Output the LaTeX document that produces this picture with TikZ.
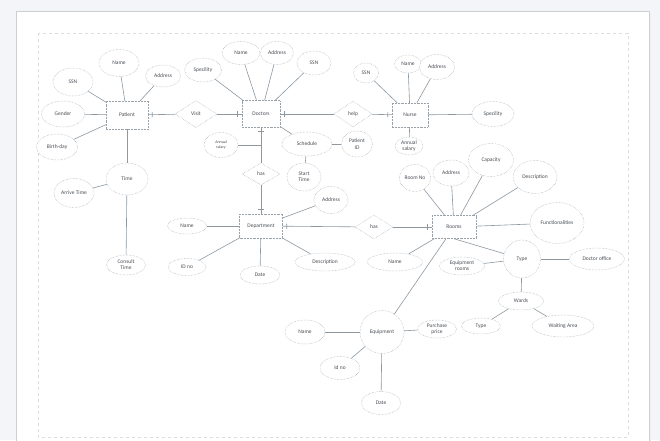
\documentclass[tikz,border=0pt]{standalone}
\usepackage{fontspec}
\setmainfont{Carlito}
\usetikzlibrary{shapes.geometric,decorations.markings}
\definecolor{bgc}{HTML}{F4F5F8}
\definecolor{pagec}{HTML}{CFCFD2}
\definecolor{framec}{HTML}{DCDCDC}
\definecolor{bordc}{HTML}{9AA2A8}
\definecolor{linec}{HTML}{8D98A1}
\definecolor{txtc}{HTML}{4A4F55}
\tikzset{
  sz/.style 2 args={minimum width=#1pt, minimum height=#2pt},
  base/.style={draw=bordc, densely dotted, line width=0.45pt, inner sep=0pt, fill=white,
    text=txtc, font=\fontsize{5.5}{6.2}\selectfont, align=center},
  attr/.style={base, ellipse},
  ent/.style={base, rectangle},
  rel/.style={base, diamond},
  conn/.style={draw=linec, line width=0.6pt, solid},
  tickend/.style={postaction={decorate, decoration={markings,
     mark=at position -4pt with {\draw[conn] (0,-2.6pt) -- (0,2.6pt);}}}}
}
\begin{document}
\begin{tikzpicture}[x=1pt,y=-1pt]
\clip (0,0) rectangle (660,440);
\useasboundingbox (0,0) rectangle (660,440);
\fill[bgc] (0,0) rectangle (660,440);
\fill[black!6] (18,13) rectangle (651,452);
\draw[pagec, line width=0.8pt, fill=white] (16,11) rectangle (649,450);
\draw[framec, dashed, line width=0.4pt] (38,33) rectangle (628,437);

% Patient
\node[ent, sz={42}{28}] (patient) at (127,115) {Patient};
\node[attr, sz={40}{27}] (pname) at (119,63) {Name};
\node[attr, sz={40}{28}] (pssn) at (73,82) {SSN};
\node[attr, sz={35}{22}] (paddr) at (163,76) {Address};
\node[attr, sz={43}{26}] (pgender) at (63,114) {Gender};
\node[attr, sz={41}{26}] (pbirth) at (57,147) {Birth-day};
\node[attr, sz={42}{32}] (time) at (127,179) {Time};
\node[attr, sz={40}{29}] (arrive) at (74,193) {Arrive Time};
\node[attr, sz={39}{20}] (consult) at (126,265) {Consult\\Time};
\node[rel, sz={42}{27}] (visit) at (196,114) {Visit};

% Doctors
\node[ent, sz={38}{27}] (doctors) at (261,114) {Doctors};
\node[attr, sz={37}{24}] (dspec) at (203,70) {Specility};
\node[attr, sz={38}{23}] (dname) at (241,53) {Name};
\node[attr, sz={33}{23}] (daddr) at (277,53) {Address};
\node[attr, sz={34}{24}] (dssn) at (314,63) {SSN};
\node[attr, sz={34}{25}, font=\fontsize{4}{4.6}\selectfont] (dsal) at (221,145) {Annual\\salary};
\coordinate (j1) at (261,145);
\node[attr, sz={50}{24}] (sched) at (307,144) {Schedule};
\node[attr, sz={31}{26}] (pid) at (357,144) {Patient\\ID};
\node[attr, sz={34}{28}] (start) at (304,177) {Start\\Time};
\node[rel, sz={38}{26}] (help) at (353,114) {help};
\node[rel, sz={38}{22}] (has1) at (261,174) {has};

% Nurse
\node[ent, sz={36}{24}] (nurse) at (410,115) {Nurse};
\node[attr, sz={25}{20}] (nssn) at (366,73) {SSN};
\node[attr, sz={27}{18}] (nname) at (408,64) {Name};
\node[attr, sz={35}{25}] (naddr) at (437,67) {Address};
\node[attr, sz={42}{25}] (nspec) at (493,114) {Specility};
\node[attr, sz={28}{18}] (nsal) at (409,146) {Annual\\salary};

% Department
\node[ent, sz={43}{24}] (dept) at (261,226) {Department};
\node[attr, sz={39}{16}] (dpname) at (187,226) {Name};
\node[attr, sz={38}{17}] (dpid) at (187,267) {ID no};
\node[attr, sz={40}{18}] (dpdate) at (260,275) {Date};
\node[attr, sz={60}{18}] (dpdesc) at (325,262) {Description};
\node[attr, sz={34}{27}] (dpaddr) at (331,200) {Address};
\node[rel, sz={38}{24}] (has2) at (374,227) {has};

% Rooms
\node[ent, sz={44}{23}] (rooms) at (454,227) {Rooms};
\node[attr, sz={31}{27}] (rno) at (415,178) {Room No};
\node[attr, sz={36}{26}] (raddr) at (451,173) {Address};
\node[attr, sz={45}{33}] (rcap) at (491,160) {Capacity};
\node[attr, sz={44}{33}] (rdesc) at (535,177) {Description};
\node[attr, sz={54}{41}] (rfunc) at (557,223) {Functionalities};
\node[attr, sz={55}{18}] (rname) at (395,262) {Name};
\node[attr, sz={37}{38}] (rtype) at (522,259) {Type};
\node[attr, sz={55}{22}] (doff) at (597,259) {Doctor office};
\node[attr, sz={45}{18}] (eqrooms) at (462,266) {Equipment\\rooms};
\node[attr, sz={45}{18}] (wards) at (521,301) {Wards};
\node[attr, sz={39}{16}] (wtype) at (481,326) {Type};
\node[attr, sz={62}{22}] (wait) at (563,326) {Waiting Area};

% Equipment
\node[attr, sz={44}{43}] (equip) at (382,332) {Equipment};
\node[attr, sz={40}{24}] (ename) at (305,332) {Name};
\node[attr, sz={40}{23}] (eid) at (340,368) {Id no};
\node[attr, sz={39}{23}] (edate) at (381,403) {Date};
\node[attr, sz={39}{18}] (eprice) at (437,329) {Purchase\\price};

% connectors
\begin{scope}[conn]
\draw (patient) -- (pname);
\draw (patient) -- (pssn);
\draw (patient) -- (paddr);
\draw (patient) -- (pgender);
\draw (patient) -- (pbirth);
\draw (patient) -- (time);
\draw (time) -- (arrive);
\draw (time) -- (consult);
\draw[tickend] (visit) -- (patient);
\draw[tickend] (visit) -- (doctors);

\draw (doctors) -- (dspec);
\draw (doctors) -- (dname);
\draw (doctors) -- (daddr);
\draw (doctors) -- (dssn);
\draw (doctors) -- (sched);
\draw (sched) -- (pid);
\draw (sched) -- (start);
\draw (dsal) -- (j1);
\draw[tickend] (help) -- (doctors);
\draw[tickend] (help) -- (nurse);
\draw[tickend] (has1) -- (doctors);
\draw[tickend] (has1) -- (dept);

\draw (nurse) -- (nssn);
\draw (nurse) -- (nname);
\draw (nurse) -- (naddr);
\draw (nurse) -- (nspec);
\draw (nurse) -- (nsal);

\draw (dept) -- (dpname);
\draw (dept) -- (dpid);
\draw (dept) -- (dpdate);
\draw (dept) -- (dpdesc);
\draw (dept) -- (dpaddr);
\draw[tickend] (has2) -- (dept);
\draw[tickend] (has2) -- (rooms);

\draw (rooms) -- (rno);
\draw (rooms) -- (raddr);
\draw (rooms) -- (rcap);
\draw (rooms) -- (rdesc);
\draw (rooms) -- (rfunc);
\draw (rooms) -- (rname);
\draw (rooms.south) -- (rtype);
\draw (rooms) -- (equip);
\draw (rtype) -- (doff);
\draw (rtype) -- (eqrooms);
\draw (rtype) -- (wards);
\draw (wards) -- (wtype);
\draw (wards) -- (wait);

\draw (equip) -- (ename);
\draw (equip) -- (eid);
\draw (equip) -- (edate);
\draw (equip) -- (eprice);
\end{scope}
\end{tikzpicture}
\end{document}
